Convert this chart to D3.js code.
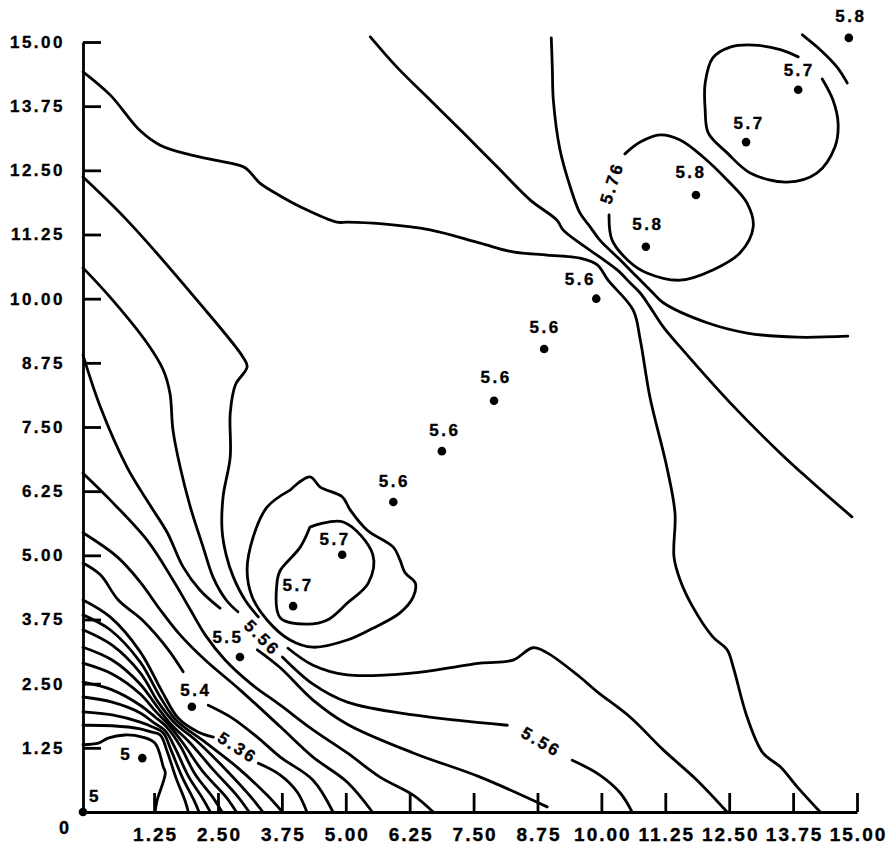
<!DOCTYPE html>
<html>
<head>
<meta charset="utf-8">
<script src="https://cdn.jsdelivr.net/npm/d3@7"></script>
<style>
  body { margin: 0; background: #fff; }
  svg text { font-family: "Liberation Sans", Arial, sans-serif; font-weight: bold; fill: #000; stroke: #000; stroke-width: 0.35px; }
</style>
</head>
<body>
<svg id="chart"></svg>
<script>
// tick values shared by both axes
const tickValues = [1.25, 2.5, 3.75, 5, 6.25, 7.5, 8.75, 10, 11.25, 12.5, 13.75, 15];

// measured points along the diagonal
const pointX = [-0.14, 1.02, 1.99, 2.93, 3.97, 4.93, 5.93, 6.88, 7.90, 8.88, 9.90, 10.87, 11.85, 12.83, 13.85, 14.84];
const pointY = [0, 1.05, 2.05, 3.02, 4.01, 5.01, 6.04, 7.03, 8.01, 9.02, 10.0, 11.01, 12.02, 13.05, 14.07, 15.08];
const pointValue = ['5', '5', '5.4', '5.5', '5.7', '5.7', '5.6', '5.6', '5.6', '5.6', '5.6', '5.8', '5.8', '5.7', '5.7', '5.8'];

// contour lines, each a list of segments (gaps where labels sit)
const contourA = [[[-0.14,14.42],[0.39,13.97],[0.98,13.27],[1.37,12.99],[1.96,12.80],[2.64,12.66],[3.03,12.55],[3.32,12.25],[3.72,12.0],[4.11,11.79],[4.83,11.49],[5.03,11.49],[5.67,11.46],[6.65,11.34],[7.63,11.08],[8.27,10.91],[8.94,10.85],[9.58,10.79],[9.92,10.66],[10.13,10.36],[10.62,9.78],[10.76,9.20],[10.95,8.08],[11.28,6.72],[11.44,5.82],[11.42,4.97],[11.54,4.52],[11.79,3.99],[12.18,3.41],[12.46,3.16],[12.58,2.82],[12.85,1.85],[13.16,1.15],[13.50,0.88],[13.83,0.49],[14.28,0]]];
const contourB = [[[5.48,15.1],[6.0,14.51],[6.65,13.87],[7.30,13.23],[7.96,12.57],[8.61,11.92],[9.13,11.53],[9.25,11.34],[9.58,11.08],[9.97,10.81],[10.31,10.56],[10.56,10.31],[10.76,10.11],[10.95,9.84],[11.21,9.45],[11.54,9.06],[12.52,7.97],[13.50,6.99],[14.14,6.41],[14.90,5.75]]];
const contourC = [[[9.02,15.08],[9.04,14.51],[9.06,13.87],[9.19,12.90],[9.39,12.18],[9.58,11.67],[9.78,11.40],[9.97,11.14],[10.31,10.81],[10.70,10.42],[11.01,10.11],[11.21,9.92],[12.07,9.53],[12.85,9.33],[13.83,9.25],[14.82,9.27]]];
const contour576 = [[[10.46,12.82],[10.76,13.05],[11.15,13.19],[11.54,13.09],[11.99,12.76],[12.46,12.31],[12.85,11.86],[12.97,11.40],[12.71,10.89],[12.18,10.56],[11.54,10.36],[10.89,10.50],[10.56,10.71],[10.21,11.14],[10.15,11.63]]];
const contourTop57 = [[[14.32,14.28],[14.53,13.87],[14.63,13.42],[14.57,12.96],[14.22,12.45],[13.63,12.27],[12.91,12.45],[12.46,12.84],[12.09,13.23],[12.03,13.68],[12.03,14.20],[12.18,14.69],[12.52,14.90],[12.97,14.94],[13.50,14.85],[13.85,14.71]]];
const contourCorner = [[[13.93,15.14],[14.28,14.85],[14.61,14.51],[14.81,14.20]]];
const contourInner57 = [[[4.30,5.55],[4.95,5.65],[5.53,5.01],[5.44,4.46],[5.03,4.07],[4.64,3.74],[4.24,3.66],[3.72,3.78],[3.66,4.52],[3.72,4.71],[4.11,5.16],[4.30,5.55]]];
const contourOuter = [[[3.91,6.27],[4.30,6.53],[4.50,6.33],[4.93,6.14],[5.09,5.88],[5.42,5.49],[5.93,5.16],[6.06,4.91],[6.16,4.66],[6.36,4.46],[6.32,4.19],[6.06,3.88],[5.53,3.58],[5.03,3.35],[4.36,3.21],[3.91,3.35],[3.46,3.74],[3.17,4.19],[3.07,4.71],[3.19,5.36],[3.46,5.94],[3.91,6.27]]];
const contourL0 = [
  [[-0.14,12.37],[0.72,11.53],[2.09,9.97],[2.99,8.86],[3.07,8.67],[2.84,8.32],[2.74,7.77],[2.74,6.92],[2.60,6.14],[2.58,5.49],[2.66,5.01],[2.80,4.58],[3.03,4.13],[3.29,3.80]],
  [[3.87,3.19],[4.36,2.86],[5.03,2.67],[6.32,2.71],[7.63,2.90],[8.27,2.96],[8.66,3.20],[8.94,3.10],[9.58,2.63],[9.92,2.34],[10.56,1.85],[11.21,1.21],[11.87,0.62],[12.46,0]]
];
const contourL1 = [
  [[-0.14,10.60],[0.39,10.03],[1.11,9.14],[1.43,8.61],[1.56,8.16],[1.62,7.44],[1.76,6.72],[1.96,5.94],[2.21,5.16],[2.41,4.56],[2.66,4.13],[2.89,3.90]],
  [[3.76,3.02],[4.36,2.49],[5.03,2.14],[6.32,1.89],[8.16,1.69]],
  [[9.43,1.01],[9.97,0.72],[10.37,0.37],[10.60,0]]
];
const contourL2 = [
  [[-0.14,8.90],[0.20,7.89],[0.72,6.72],[1.17,5.98],[1.51,5.44],[1.82,4.77],[2.15,4.32],[2.54,3.97]],
  [[3.27,3.16],[3.72,2.81],[4.36,2.18],[5.03,1.71],[6.32,1.15],[7.63,0.68],[8.94,0.10]]
];
const contourM0 = [[[-0.14,6.60],[0.39,6.08],[1.11,5.30],[1.62,4.52],[1.96,3.94],[2.25,3.45],[2.64,2.96],[3.13,2.51],[3.72,2.08],[4.36,1.60],[5.03,1.15],[5.67,0.68],[6.32,0.33],[6.71,0]]];
const contourM1 = [[[-0.14,5.44],[0.53,4.97],[0.98,4.48],[1.37,3.94],[1.76,3.45],[2.25,2.96],[2.93,2.38],[3.72,1.66],[4.36,1.07],[5.03,0.58],[5.52,0]]];
const contourM2 = [
  [[-0.14,4.85],[0.20,4.62],[0.55,4.13],[1.02,3.74],[1.53,3.16],[1.82,2.73]],
  [[2.31,2.08],[2.78,1.83],[3.29,1.44],[3.72,1.07],[4.36,0.62],[4.75,0]]
];
const contourM3 = [
  [[-0.14,4.13],[0.39,3.80],[0.98,3.12],[1.41,2.34],[1.72,1.83],[2.11,1.56],[2.41,1.46]],
  [[3.29,0.95],[3.72,0.72],[4.05,0.39],[4.24,0]]
];
const contourM4 = [[[-0.14,3.84],[0.39,3.55],[0.98,2.92],[1.37,2.24],[1.68,1.79],[2.25,1.36],[2.89,0.86],[3.46,0.33],[3.76,0]]];
const contourM5 = [[[-0.14,3.55],[0.43,3.25],[0.98,2.71],[1.33,2.14],[1.64,1.75],[2.11,1.36],[2.66,0.82],[3.13,0.31],[3.38,0]]];
const contourM6 = [[[-0.14,3.21],[0.43,2.96],[0.98,2.49],[1.31,2.05],[1.58,1.71],[1.96,1.34],[2.41,0.82],[2.88,0.31],[3.11,0]]];
const contourM7 = [[[-0.14,2.90],[0.43,2.69],[0.98,2.30],[1.29,1.95],[1.55,1.68],[1.84,1.31],[2.21,0.78],[2.66,0.29],[2.86,0]]];
const contourM8 = [[[-0.14,2.53],[0.43,2.38],[0.98,2.08],[1.27,1.85],[1.51,1.64],[1.76,1.29],[2.05,0.74],[2.41,0.27],[2.58,0]]];
const contourM9 = [[[-0.14,2.24],[0.43,2.14],[0.98,1.93],[1.23,1.75],[1.47,1.58],[1.66,1.25],[1.92,0.70],[2.21,0.25],[2.35,0]]];
const contourM10 = [[[-0.14,1.95],[0.43,1.89],[0.98,1.75],[1.21,1.66],[1.43,1.54],[1.58,1.21],[1.80,0.68],[2.03,0.23],[2.13,0]]];
const contourM11 = [[[-0.14,1.69],[0.43,1.68],[0.98,1.62],[1.19,1.56],[1.37,1.50],[1.51,1.17],[1.68,0.66],[1.86,0.21],[1.92,0]]];
const contour5 = [[[-0.14,1.31],[0.16,1.34],[0.35,1.44],[0.68,1.50],[1.02,1.46],[1.27,1.34],[1.43,0.88],[1.47,0.76],[1.31,0.23],[1.27,0]]];

// contour labels
const contourLabelText = ['5.56', '5.56', '5.36', '5.76'];
const contourLabelX = [3.36, 8.82, 2.88, 10.21];
const contourLabelY = [3.39, 1.36, 1.25, 12.25];

// layout only: angle of contour labels and offsets of point labels (px)
const contourLabelAngle = [45, 30, 33, -72];
const pointLabelDx = [12, -16, 4, -12, 5, -7, 1, 3, 2, 1, -16, 2, -5, 3, 1, 2];
const pointLabelDy = [-16, -4, -16, -19, -21, -15, -20, -21, -23, -21, -19, -22, -22, -19, -19, -21];

const allContours = [contourA, contourB, contourC, contour576, contourTop57, contourCorner,
  contourInner57, contourOuter, contourL0, contourL1, contourL2, contourM0, contourM1, contourM2,
  contourM3, contourM4, contourM5, contourM6, contourM7, contourM8, contourM9, contourM10, contourM11, contour5];

const svgSize = { width: 890, height: 846 };
const svg = d3.select('#chart').attr('width', svgSize.width).attr('height', svgSize.height);

const xLine = d3.scaleLinear().domain([-0.14, 15]).range([83, 857]);
const yLine = d3.scaleLinear().domain([0, 15]).range([812, 42]);
const fmt = d3.format('.2f');

drawContours(svg);
drawXAxis(svg);
drawYAxis(svg);
drawContourLabels(svg);
drawPoints(svg);

function drawContours(g) {
  const line = d3.line()
    .x(d => xLine(d[0]))
    .y(d => yLine(d[1]))
    .curve(d3.curveCatmullRom.alpha(0.5));
  const segments = allContours.flat();
  g.append('g')
    .attr('id', 'contours')
    .selectAll('path')
    .data(segments)
    .enter()
    .append('path')
    .attr('fill', 'none')
    .attr('stroke', '#000')
    .attr('stroke-width', 2.8)
    .attr('stroke-linejoin', 'round')
    .attr('stroke-linecap', 'round')
    .attr('d', d => line(d));
}

function styleAxis(axisGroup, fontSize, spacing) {
  axisGroup.select('.domain').attr('stroke', '#000').attr('stroke-width', 2.8);
  axisGroup.selectAll('.tick line').attr('stroke', '#000').attr('stroke-width', 2.8);
  axisGroup.selectAll('.tick text')
    .attr('font-size', fontSize)
    .attr('letter-spacing', spacing)
    .attr('font-family', null);
}

function drawXAxis(g) {
  const axisGroup = g.append('g')
    .attr('transform', `translate(0, ${yLine(0)})`)
    .call(d3.axisBottom(xLine).tickValues(tickValues).tickSize(-19).tickSizeOuter(0)
      .tickPadding(16).tickFormat(fmt));
  styleAxis(axisGroup, 19, '2px');
  axisGroup.selectAll('.tick text').attr('dx', '1px');
}

function drawYAxis(g) {
  const axisGroup = g.append('g')
    .attr('transform', `translate(${xLine(-0.14)}, 0)`)
    .call(d3.axisLeft(yLine).tickValues(tickValues).tickSize(-18).tickSizeOuter(0)
      .tickPadding(18).tickFormat(fmt));
  styleAxis(axisGroup, 17, '2.5px');
  g.append('text')
    .attr('x', 64)
    .attr('y', 828)
    .attr('text-anchor', 'middle')
    .attr('dominant-baseline', 'central')
    .attr('font-size', 18)
    .text('0');
}

function drawContourLabels(g) {
  g.append('g')
    .selectAll('text')
    .data(contourLabelText)
    .enter()
    .append('text')
    .attr('font-size', 17)
    .attr('letter-spacing', '2.5px')
    .attr('text-anchor', 'middle')
    .attr('dominant-baseline', 'central')
    .attr('transform', (d, i) =>
      `translate(${xLine(contourLabelX[i])}, ${yLine(contourLabelY[i])}) rotate(${contourLabelAngle[i]})`)
    .text(d => d);
}

function drawPoints(g) {
  const pts = pointValue.map((v, i) => ({ x: pointX[i], y: pointY[i], v: v, i: i }));
  const grp = g.append('g').attr('id', 'points');
  grp.selectAll('circle')
    .data(pts)
    .enter()
    .append('circle')
    .attr('cx', d => xLine(d.x))
    .attr('cy', d => yLine(d.y))
    .attr('r', 4.3)
    .attr('fill', '#000');
  grp.selectAll('text')
    .data(pts)
    .enter()
    .append('text')
    .attr('x', d => xLine(d.x) + pointLabelDx[d.i])
    .attr('y', d => yLine(d.y) + pointLabelDy[d.i])
    .attr('font-size', 17)
    .attr('letter-spacing', '2.5px')
    .attr('text-anchor', 'middle')
    .attr('dominant-baseline', 'central')
    .text(d => d.v);
}
</script>
</body>
</html>
